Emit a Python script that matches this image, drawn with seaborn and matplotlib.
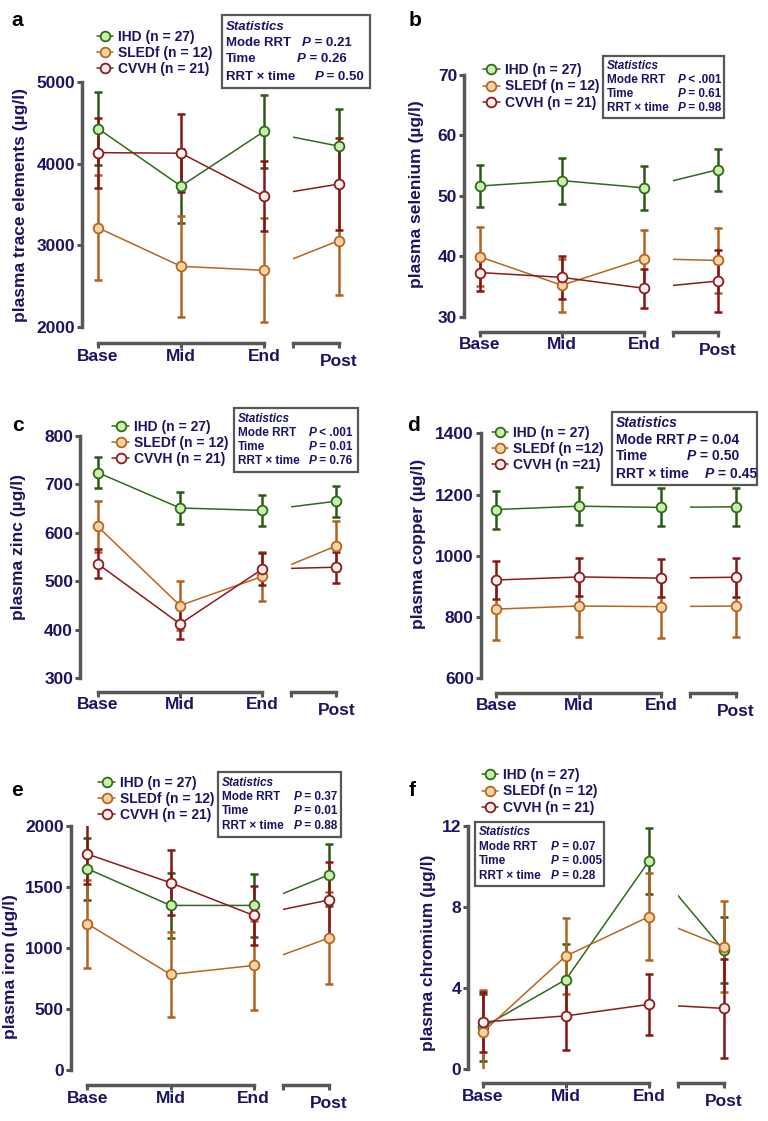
import numpy as np
import pandas as pd
import matplotlib
matplotlib.use("Agg")
import matplotlib.pyplot as plt
import seaborn as sns
from matplotlib.patches import Rectangle
from matplotlib.text import Annotation

# ---------------- data ----------------
times = ["Base", "Mid", "End", "Post"]
groups = ["IHD", "SLEDf", "CVVH"]

trace_mean = {"IHD": [4430, 3725, 4395, 4215], "SLEDf": [3215, 2743, 2694, 3057], "CVVH": [4135, 4128, 3600, 3750]}
trace_sd = {"IHD": [445, 455, 450, 450], "SLEDf": [645, 620, 635, 670], "CVVH": [430, 475, 430, 560]}

selenium_mean = {"IHD": [51.6, 52.5, 51.3, 54.3], "SLEDf": [39.9, 35.2, 39.6, 39.3], "CVVH": [37.3, 36.5, 34.7, 35.9]}
selenium_sd = {"IHD": [3.4, 3.8, 3.6, 3.5], "SLEDf": [4.9, 4.4, 4.8, 5.4], "CVVH": [3.0, 3.5, 3.2, 5.2]}

zinc_mean = {"IHD": [724, 651, 646, 665], "SLEDf": [613, 450, 510, 573], "CVVH": [536, 412, 525, 529]}
zinc_sd = {"IHD": [32, 32, 32, 32], "SLEDf": [53, 51, 51, 52], "CVVH": [30, 32, 33, 32]}

copper_mean = {"IHD": [1151, 1162, 1158, 1160], "SLEDf": [826, 836, 834, 836], "CVVH": [921, 931, 927, 930]}
copper_sd = {"IHD": [62, 62, 62, 62], "SLEDf": [100, 100, 102, 102], "CVVH": [62, 63, 63, 63]}

iron_mean = {"IHD": [1650, 1349, 1349, 1598], "SLEDf": [1199, 783, 857, 1081], "CVVH": [1770, 1535, 1267, 1393]}
iron_sd = {"IHD": [253, 263, 260, 252], "SLEDf": [360, 350, 364, 376], "CVVH": [246, 268, 245, 312]}

chromium_mean = {"IHD": [2.07, 4.42, 10.26, 5.86], "SLEDf": [1.83, 5.58, 7.52, 6.04], "CVVH": [2.33, 2.63, 3.2, 3.0]}
chromium_sd = {"IHD": [1.66, 1.74, 1.62, 1.62], "SLEDf": [2.1, 1.85, 2.15, 2.24], "CVVH": [1.5, 1.67, 1.5, 2.42]}

legend_labels = ["IHD (n = 27)", "SLEDf (n = 12)", "CVVH (n = 21)"]
legend_labels_copper = ["IHD (n = 27)", "SLEDf (n =12)", "CVVH (n =21)"]

stat_rows = ["Mode RRT", "Time", "RRT \u00d7 time"]
p_trace = ["= 0.21", "= 0.26", "= 0.50"]
p_selenium = ["< .001", "= 0.61", "= 0.98"]
p_zinc = ["< .001", "= 0.01", "= 0.76"]
p_copper = ["= 0.04", "= 0.50", "= 0.45"]
p_iron = ["= 0.37", "= 0.01", "= 0.88"]
p_chromium = ["= 0.07", "= 0.005", "= 0.28"]

# ---------------- style ----------------
W, H = 768, 1121
NAVY = "#1b1464"
GRAY = "#575757"
edge_colors = {"IHD": "#2f6a1d", "SLEDf": "#b5661f", "CVVH": "#8c1b1b"}
face_colors = {"IHD": "#c9f2a9", "SLEDf": "#f7d3a5", "CVVH": "#fdf1ef"}
err_colors = {"IHD": "#2b5917", "SLEDf": "#b0621c", "CVVH": "#861717"}

sns.set_style("ticks")
plt.rcParams["font.family"] = ["Liberation Sans", "DejaVu Sans"]
plt.rcParams["font.weight"] = "bold"
plt.rcParams["axes.labelweight"] = "bold"

x_pos = [0.0, 1.0, 2.0, 2.9]   # layout positions of the time points (broken axis)
BREAK = 2.35

fig = plt.figure(figsize=(W / 100, H / 100), dpi=100)


def fx(x):
    return x / W


def fy(y):
    return 1 - y / H


def long_frame(means, sds):
    rows = []
    for g in groups:
        for t, xp, m, s in zip(times, x_pos, means[g], sds[g]):
            rows.append({"group": g, "time": t, "x": xp, "mean": m, "sd": s})
    return pd.DataFrame(rows)


def style_axis(ax, off_pt):
    for s in ["top", "right"]:
        ax.spines[s].set_visible(False)
    for s in ["left", "bottom"]:
        ax.spines[s].set_color(GRAY)
        ax.spines[s].set_linewidth(2.5)
    ax.spines["bottom"].set_position(("outward", off_pt))
    ax.set_facecolor("none")
    ax.set_xlabel("")
    ax.set_ylabel("")


def panel(p):
    unit = (p["end"] - p["base"]) / 2.0
    top, bot = p["ytop"], p["ybot"]
    ylo, yhi = p["yticks"][0], p["yticks"][-1]
    off_pt = (p["bracket"] - bot) * 0.72

    l_left, l_right = p["spine"], p["end"] + 10
    axL = fig.add_axes([fx(l_left), fy(bot), (l_right - l_left) / W, (bot - top) / H])
    axL.set_xlim((l_left - p["base"]) / unit, (l_right - p["base"]) / unit)
    r_left = p["base"] + BREAK * unit
    r_right = p["base"] + (x_pos[3] + 0.22) * unit
    axR = fig.add_axes([fx(r_left), fy(bot), (r_right - r_left) / W, (bot - top) / H])
    axR.set_xlim(BREAK, x_pos[3] + 0.22)

    df = long_frame(p["mean"], p["sd"])
    handles = []
    for g in groups:
        d = df[df.group == g]
        dl = d[d.x <= 2.0]
        dr = d[d.x >= 2.0]
        kw = dict(color=edge_colors[g], marker="o", mfc=face_colors[g], mec=edge_colors[g],
                  ms=7, mew=1.3, lw=1.1, estimator=None, sort=False, legend=False, zorder=3)
        sns.lineplot(data=dl, x="x", y="mean", ax=axL, **kw)
        handles.append(axL.get_lines()[-1])
        sns.lineplot(data=dr, x="x", y="mean", ax=axR, **kw)
        for ax, dd in ((axL, dl), (axR, d[d.x > 2.0])):
            ax.errorbar(dd["x"], dd["mean"], yerr=dd["sd"], fmt="none", ecolor=err_colors[g],
                        elinewidth=1.8, capsize=3.2, capthick=1.8, zorder=2)

    for ax in (axL, axR):
        ax.set_ylim(ylo, yhi)
        style_axis(ax, off_pt)

    axL.set_yticks(p["yticks"])
    axL.set_yticklabels([str(v) for v in p["yticks"]])
    axL.spines["left"].set_bounds(ylo, yhi)
    axL.set_xticks(x_pos[:3])
    axL.set_xticklabels(times[:3])
    axL.spines["bottom"].set_bounds(0, 2)
    axL.tick_params(axis="both", direction="out", length=3.5, width=2.2, color=GRAY,
                    labelcolor=NAVY, labelsize=12.5)
    axL.tick_params(axis="y", pad=1.5)
    axL.tick_params(axis="x", pad=0.5)

    axR.spines["left"].set_visible(False)
    axR.tick_params(axis="y", left=False, labelleft=False)
    axR.set_xticks([BREAK, x_pos[3]])
    axR.set_xticklabels(["", times[3]])
    axR.spines["bottom"].set_bounds(BREAK, x_pos[3])
    axR.tick_params(axis="x", direction="out", length=3.5, width=2.2, color=GRAY,
                    labelcolor=NAVY, labelsize=12.5, pad=4.5)

    # y label and panel letter
    fig.text(fx(p["ylab_xy"][0]), fy(p["ylab_xy"][1]), p["ylabel"], rotation=90, ha="center",
             va="center", color=NAVY, fontsize=12.5)
    fig.text(fx(p["letter_xy"][0]), fy(p["letter_xy"][1]), p["letter"], ha="center", va="center",
             color="black", fontsize=15)

    # legend
    lfs = 10.0
    fs_px = lfs * 100 / 72
    hl = 1.2
    anchor_x = p["leg_cx"] - hl * fs_px / 2
    anchor_y = p["leg_y"] - 7.8
    fig.legend(handles, p["labels"], loc="upper left", bbox_to_anchor=(fx(anchor_x), fy(anchor_y)),
               bbox_transform=fig.transFigure, frameon=False, prop=dict(weight="bold", size=lfs),
               labelcolor=NAVY, handlelength=hl, handletextpad=0.36, labelspacing=0.16,
               borderpad=0, borderaxespad=0)

    # statistics box
    x0, y0, x1, y1 = p["box"]
    fig.add_artist(Rectangle((fx(x0), fy(y1)), (x1 - x0) / W, (y1 - y0) / H,
                             transform=fig.transFigure, fc="white", ec=GRAY, lw=1.6, zorder=5))
    sfs = p["sfs"]
    ys = p["rows_y"]
    fig.text(fx(p["sleft"]), fy(ys[0]), "Statistics", style="italic", fontsize=sfs, color=NAVY,
             ha="left", va="center", zorder=6)
    for row, y, pxp, pv in zip(stat_rows, ys[1:], p["p_x"], p["pvals"]):
        fig.text(fx(p["sleft"]), fy(y), row, fontsize=sfs, color=NAVY, ha="left", va="center", zorder=6)
        t = fig.text(fx(pxp), fy(y), "P", style="italic", fontsize=sfs, color=NAVY, ha="left",
                     va="center", zorder=6)
        ann = Annotation(" " + pv, xy=(1, 0.5), xycoords=t, xytext=(0, 0), textcoords="offset points",
                         ha="left", va="center", fontsize=sfs, color=NAVY, fontweight="bold", zorder=6)
        fig.add_artist(ann)


panels = [
    dict(letter="a", letter_xy=(17.5, 20), mean=trace_mean, sd=trace_sd,
         ylabel="plasma trace elements (\u00b5g/l)", ylab_xy=(21, 205), yticks=[2000, 3000, 4000, 5000],
         spine=82, base=98, end=264, ytop=82, ybot=327, bracket=343,
         labels=legend_labels, leg_cx=105, leg_y=37.3,
         box=(221.7, 15, 370, 88.3), sleft=226, rows_y=[26.7, 42.7, 59.3, 76.7],
         p_x=[301.7, 296.7, 314.3], pvals=p_trace, sfs=9.5),
    dict(letter="b", letter_xy=(415, 20), mean=selenium_mean, sd=selenium_sd,
         ylabel="plasma selenium (\u00b5g/l)", ylab_xy=(417, 194), yticks=[30, 40, 50, 60, 70],
         spine=464, base=479.7, end=644, ytop=74.7, ybot=316.7, bracket=331.7,
         labels=legend_labels, leg_cx=491.3, leg_y=71,
         box=(603, 56, 724, 118.3), sleft=606.7, rows_y=[65.7, 80, 94, 108.3],
         p_x=[677.3, 677.3, 677.3], pvals=p_selenium, sfs=8.5),
    dict(letter="c", letter_xy=(17.5, 425), mean=zinc_mean, sd=zinc_sd,
         ylabel="plasma zinc (\u00b5g/l)", ylab_xy=(19, 547), yticks=[300, 400, 500, 600, 700, 800],
         spine=80, base=97.7, end=262.3, ytop=435.7, ybot=678.3, bracket=691.7,
         labels=legend_labels, leg_cx=120.7, leg_y=427.3,
         box=(234.3, 408.3, 357.7, 471.7), sleft=238, rows_y=[419, 432.7, 446.7, 461],
         p_x=[308.3, 308.3, 308.3], pvals=p_zinc, sfs=8.5),
    dict(letter="d", letter_xy=(413, 425), mean=copper_mean, sd=copper_sd,
         ylabel="plasma copper (\u00b5g/l)", ylab_xy=(418, 544), yticks=[600, 800, 1000, 1200, 1400],
         spine=480.7, base=496.3, end=661.3, ytop=433.3, ybot=678.3, bracket=692.7,
         labels=legend_labels_copper, leg_cx=500, leg_y=433.3,
         box=(611.7, 412.3, 757.3, 485), sleft=615.7, rows_y=[423.3, 440, 456, 474],
         p_x=[686.7, 686.7, 704.7], pvals=p_copper, sfs=10),
    dict(letter="e", letter_xy=(17.5, 791), mean=iron_mean, sd=iron_sd,
         ylabel="plasma iron (\u00b5g/l)", ylab_xy=(11, 967), yticks=[0, 500, 1000, 1500, 2000],
         spine=70.7, base=87.3, end=253.7, ytop=826, ybot=1070, bracket=1085,
         labels=legend_labels, leg_cx=106.7, leg_y=783.3,
         box=(217.7, 772.3, 340.7, 836.7), sleft=221.7, rows_y=[782.7, 796.7, 811, 826],
         p_x=[293.3, 293.3, 293.3], pvals=p_iron, sfs=8.5),
    dict(letter="f", letter_xy=(412, 790), mean=chromium_mean, sd=chromium_sd,
         ylabel="plasma chromium (\u00b5g/l)", ylab_xy=(428, 953), yticks=[0, 4, 8, 12],
         spine=468.3, base=482.7, end=649, ytop=825.7, ybot=1069.3, bracket=1083.3,
         labels=legend_labels, leg_cx=490, leg_y=776,
         box=(475, 821.7, 604, 885.7), sleft=479, rows_y=[832.3, 846.7, 860.7, 876],
         p_x=[550.7, 550.7, 550.7], pvals=p_chromium, sfs=8.5),
]

for p in panels:
    panel(p)

fig.savefig("out.png", dpi=100, facecolor="white")
